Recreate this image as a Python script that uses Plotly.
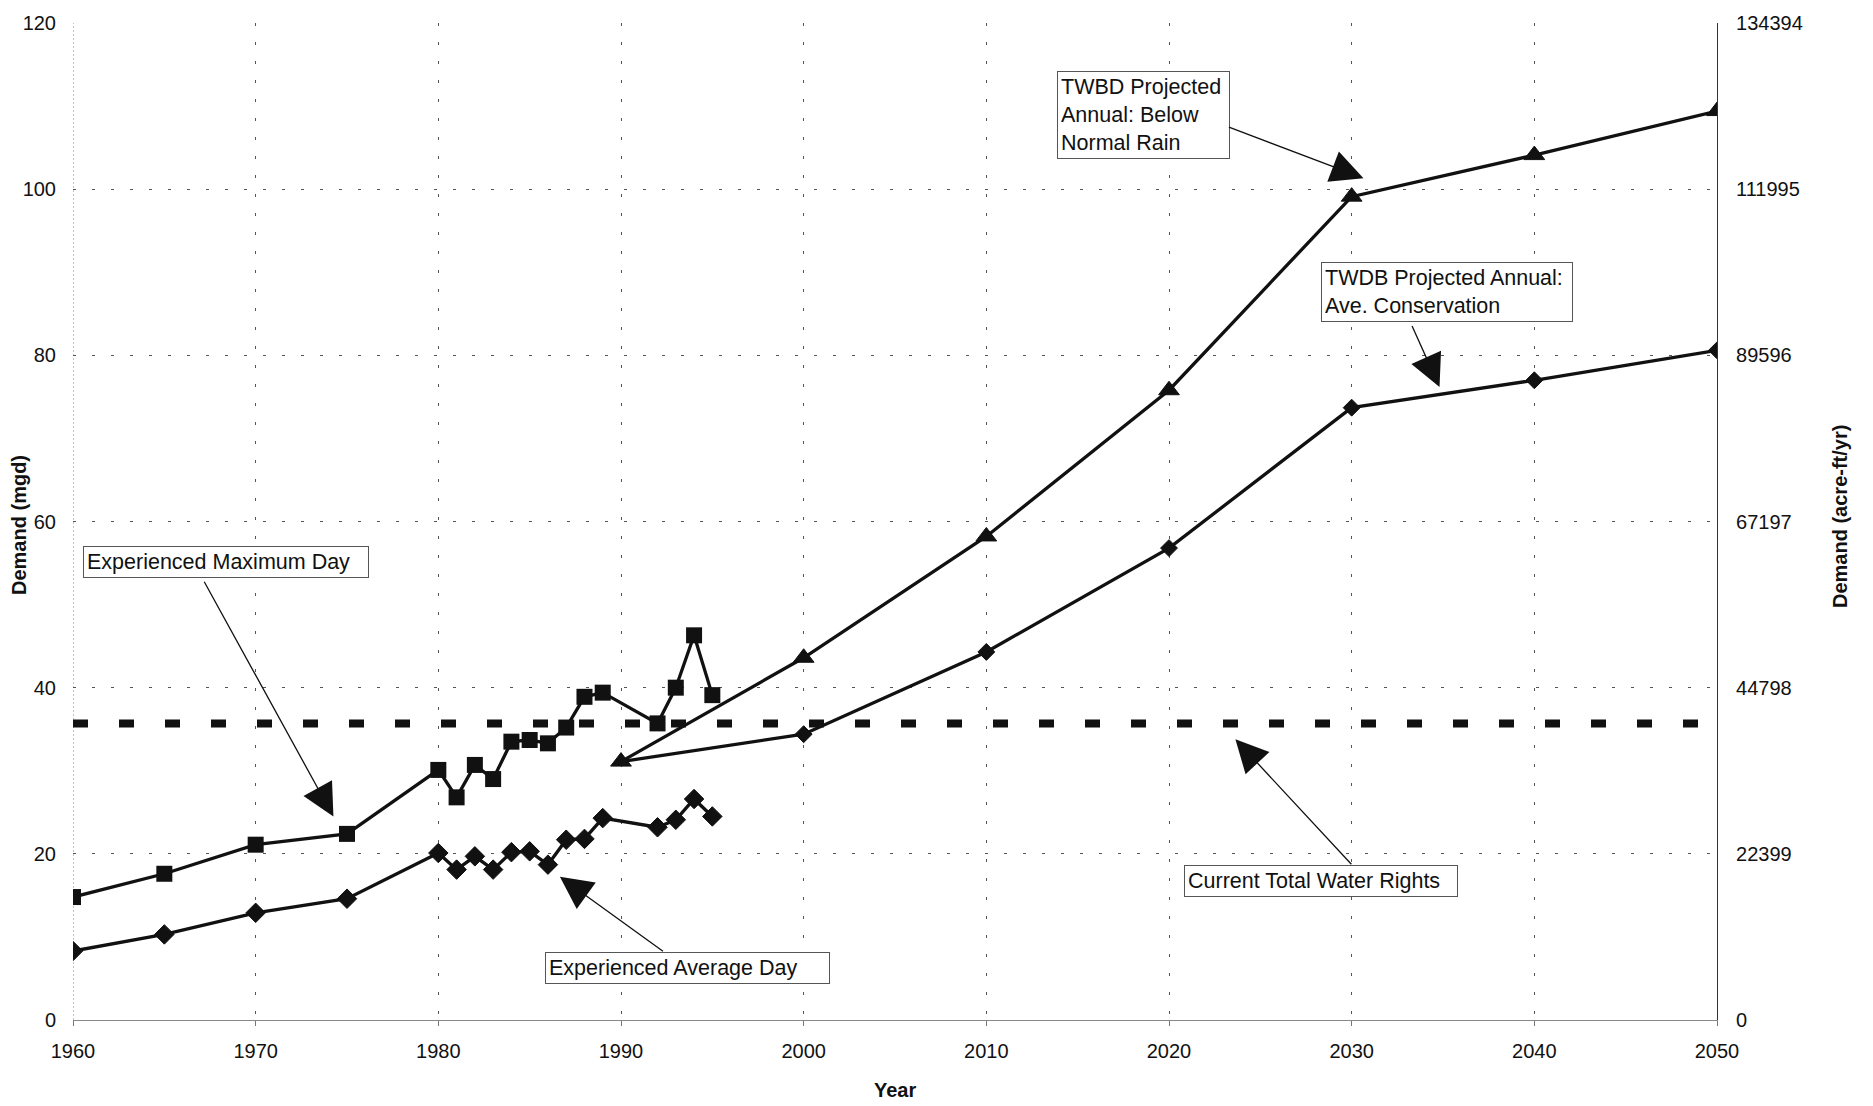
import plotly.graph_objects as go

# ---- data -------------------------------------------------------------
hist_years = [1960, 1965, 1970, 1975, 1980, 1981, 1982, 1983, 1984, 1985,
              1986, 1987, 1988, 1989, 1992, 1993, 1994, 1995]
max_day = [14.8, 17.6, 21.1, 22.4, 30.1, 26.8, 30.7, 29.0, 33.5, 33.7,
           33.3, 35.2, 38.9, 39.4, 35.7, 40.0, 46.3, 39.1]
avg_day = [8.3, 10.3, 12.9, 14.6, 20.1, 18.1, 19.7, 18.1, 20.2, 20.3,
           18.7, 21.7, 21.8, 24.3, 23.2, 24.1, 26.6, 24.5]

proj_years = [1990, 2000, 2010, 2020, 2030, 2040, 2050]
below_normal = [31.1, 43.6, 58.2, 75.8, 99.1, 104.1, 109.4]
ave_conservation = [31.1, 34.4, 44.3, 56.8, 73.7, 77.0, 80.6]

water_rights_years = [1960, 2050]
water_rights = [35.7, 35.7]

x_ticks = [1960, 1970, 1980, 1990, 2000, 2010, 2020, 2030, 2040, 2050]
mgd_ticks = [0, 20, 40, 60, 80, 100, 120]
acreft_ticks = [0, 22399, 44798, 67197, 89596, 111995, 134394]

x_range = [1960, 2050]
mgd_range = [0, 120]
acreft_range = [0, 134394]

FONT = "Liberation Sans, Arial, Helvetica, sans-serif"
INK = "#111"

fig = go.Figure()

fig.add_trace(go.Scatter(
    x=water_rights_years, y=water_rights, mode="lines",
    line=dict(color=INK, width=8, dash="15px,31px"),
    name="Current Total Water Rights", showlegend=False))

fig.add_trace(go.Scatter(
    x=hist_years, y=max_day, mode="lines+markers",
    line=dict(color=INK, width=3.3),
    marker=dict(symbol="square", size=16, color=INK),
    name="Experienced Maximum Day", showlegend=False))

fig.add_trace(go.Scatter(
    x=hist_years, y=avg_day, mode="lines+markers",
    line=dict(color=INK, width=3.3),
    marker=dict(symbol="diamond", size=15, color=INK,
                line=dict(color=INK, width=1)),
    name="Experienced Average Day", showlegend=False))

# the conservation projection shares its 1990 start with the other projection
cons_sizes = [0] + [13] * (len(proj_years) - 1)
fig.add_trace(go.Scatter(
    x=proj_years, y=ave_conservation, mode="lines+markers",
    line=dict(color=INK, width=3.3),
    marker=dict(symbol="diamond", size=cons_sizes, color=INK, opacity=1,
                line=dict(color=INK, width=1)),
    name="TWDB Projected Annual: Ave. Conservation", showlegend=False))

fig.add_trace(go.Scatter(
    x=proj_years, y=below_normal, mode="lines+markers",
    line=dict(color=INK, width=3.3),
    marker=dict(symbol="triangle-up", size=18, color=INK,
                line=dict(color=INK, width=1)),
    name="TWBD Projected Annual: Below Normal Rain", showlegend=False))

# carries the acre-ft/yr scale on the right-hand axis
fig.add_trace(go.Scatter(
    x=x_range, y=acreft_range, yaxis="y2", mode="lines",
    line=dict(width=0), opacity=0, hoverinfo="skip", showlegend=False))

# ---- callout boxes ----------------------------------------------------
boxes = [
    ("Experienced Maximum Day", 1960.52, 57.1, 278),
    ("Experienced Average Day", 1985.86, 8.14, 277),
    ("TWBD Projected<br>Annual: Below<br>Normal Rain", 2013.88, 114.25, 165),
    ("TWDB Projected Annual:<br>Ave. Conservation", 2028.33, 91.26, 244),
    ("Current Total Water Rights", 2020.82, 18.68, 266),
]
annotations = []
for text, bx, by, bw in boxes:
    annotations.append(dict(
        text=text, x=bx, y=by, xref="x", yref="y",
        xanchor="left", yanchor="top", align="left", showarrow=False,
        width=bw, bgcolor="white", bordercolor="#555", borderwidth=1,
        borderpad=3, font=dict(family=FONT, size=21.5, color=INK)))

# callout pointers: (tail x, tail y, tip x, tip y)
pointers = [
    (1967.14, 52.93, 1974.48, 23.59),
    (1992.38, 8.14, 1986.28, 17.84),
    (2023.20, 107.54, 2031.08, 100.96),
    (2033.27, 83.71, 2035.00, 75.25),
    (2030.06, 18.56, 2023.32, 34.53),
]
head_size = 5.0
head_width = 1.3
for tx, ty, hx, hy in pointers:
    annotations.append(dict(
        text="", x=hx, y=hy, xref="x", yref="y",
        ax=tx, ay=ty, axref="x", ayref="y",
        showarrow=True, arrowhead=2, arrowsize=head_size,
        arrowwidth=head_width, arrowcolor=INK,
        standoff=1.3 * head_size * head_width,
        font=dict(size=1)))

# ---- axis titles ------------------------------------------------------
title_font = dict(family=FONT, size=20, color=INK)
annotations += [
    dict(text="<b>Demand (mgd)</b>", x=0, y=0.496, xref="paper", yref="paper",
         xshift=-53.5, textangle=-90, showarrow=False,
         xanchor="center", yanchor="middle", font=title_font),
    dict(text="<b>Demand (acre-ft/yr)</b>", x=1, y=0.505, xref="paper",
         yref="paper", xshift=122.5, textangle=-90, showarrow=False,
         xanchor="center", yanchor="middle", font=title_font),
    dict(text="<b>Year</b>", x=0.5, y=0, xref="paper", yref="paper",
         yshift=-70, showarrow=False, xanchor="center", yanchor="middle",
         font=title_font),
]

tick_font = dict(family=FONT, size=20, color=INK)
grid_dash = "3px,16px"

fig.update_layout(
    width=1873, height=1106,
    margin=dict(l=73, r=156, t=18, b=86),
    paper_bgcolor="white", plot_bgcolor="white",
    showlegend=False,
    annotations=annotations,
    xaxis=dict(
        range=x_range, tickvals=x_ticks, tickfont=tick_font,
        showgrid=True, gridcolor="#555", gridwidth=1, griddash=grid_dash,
        showline=True, linecolor="#888", linewidth=1.2,
        ticks="outside", ticklen=5, tickcolor="#777",
        ticklabelstandoff=8, zeroline=False),
    yaxis=dict(
        range=mgd_range, tickvals=mgd_ticks, tickfont=tick_font,
        showgrid=True, gridcolor="#555", gridwidth=1, griddash=grid_dash,
        showline=False, zeroline=False, ticks="", ticklabelstandoff=16),
    yaxis2=dict(
        range=acreft_range, tickvals=acreft_ticks,
        ticktext=[str(v) for v in acreft_ticks], tickfont=tick_font,
        overlaying="y", side="right", anchor="x",
        showgrid=False, zeroline=False, showline=True,
        linecolor="#333", linewidth=1.2, ticks="", ticklabelstandoff=14),
    shapes=[dict(type="line", xref="x", yref="y",
                 x0=x_range[0], x1=x_range[0], y0=mgd_range[0], y1=mgd_range[1],
                 line=dict(color="#888", width=1, dash="2px,2px"),
                 layer="below")],
)

fig.write_html("out.html")
